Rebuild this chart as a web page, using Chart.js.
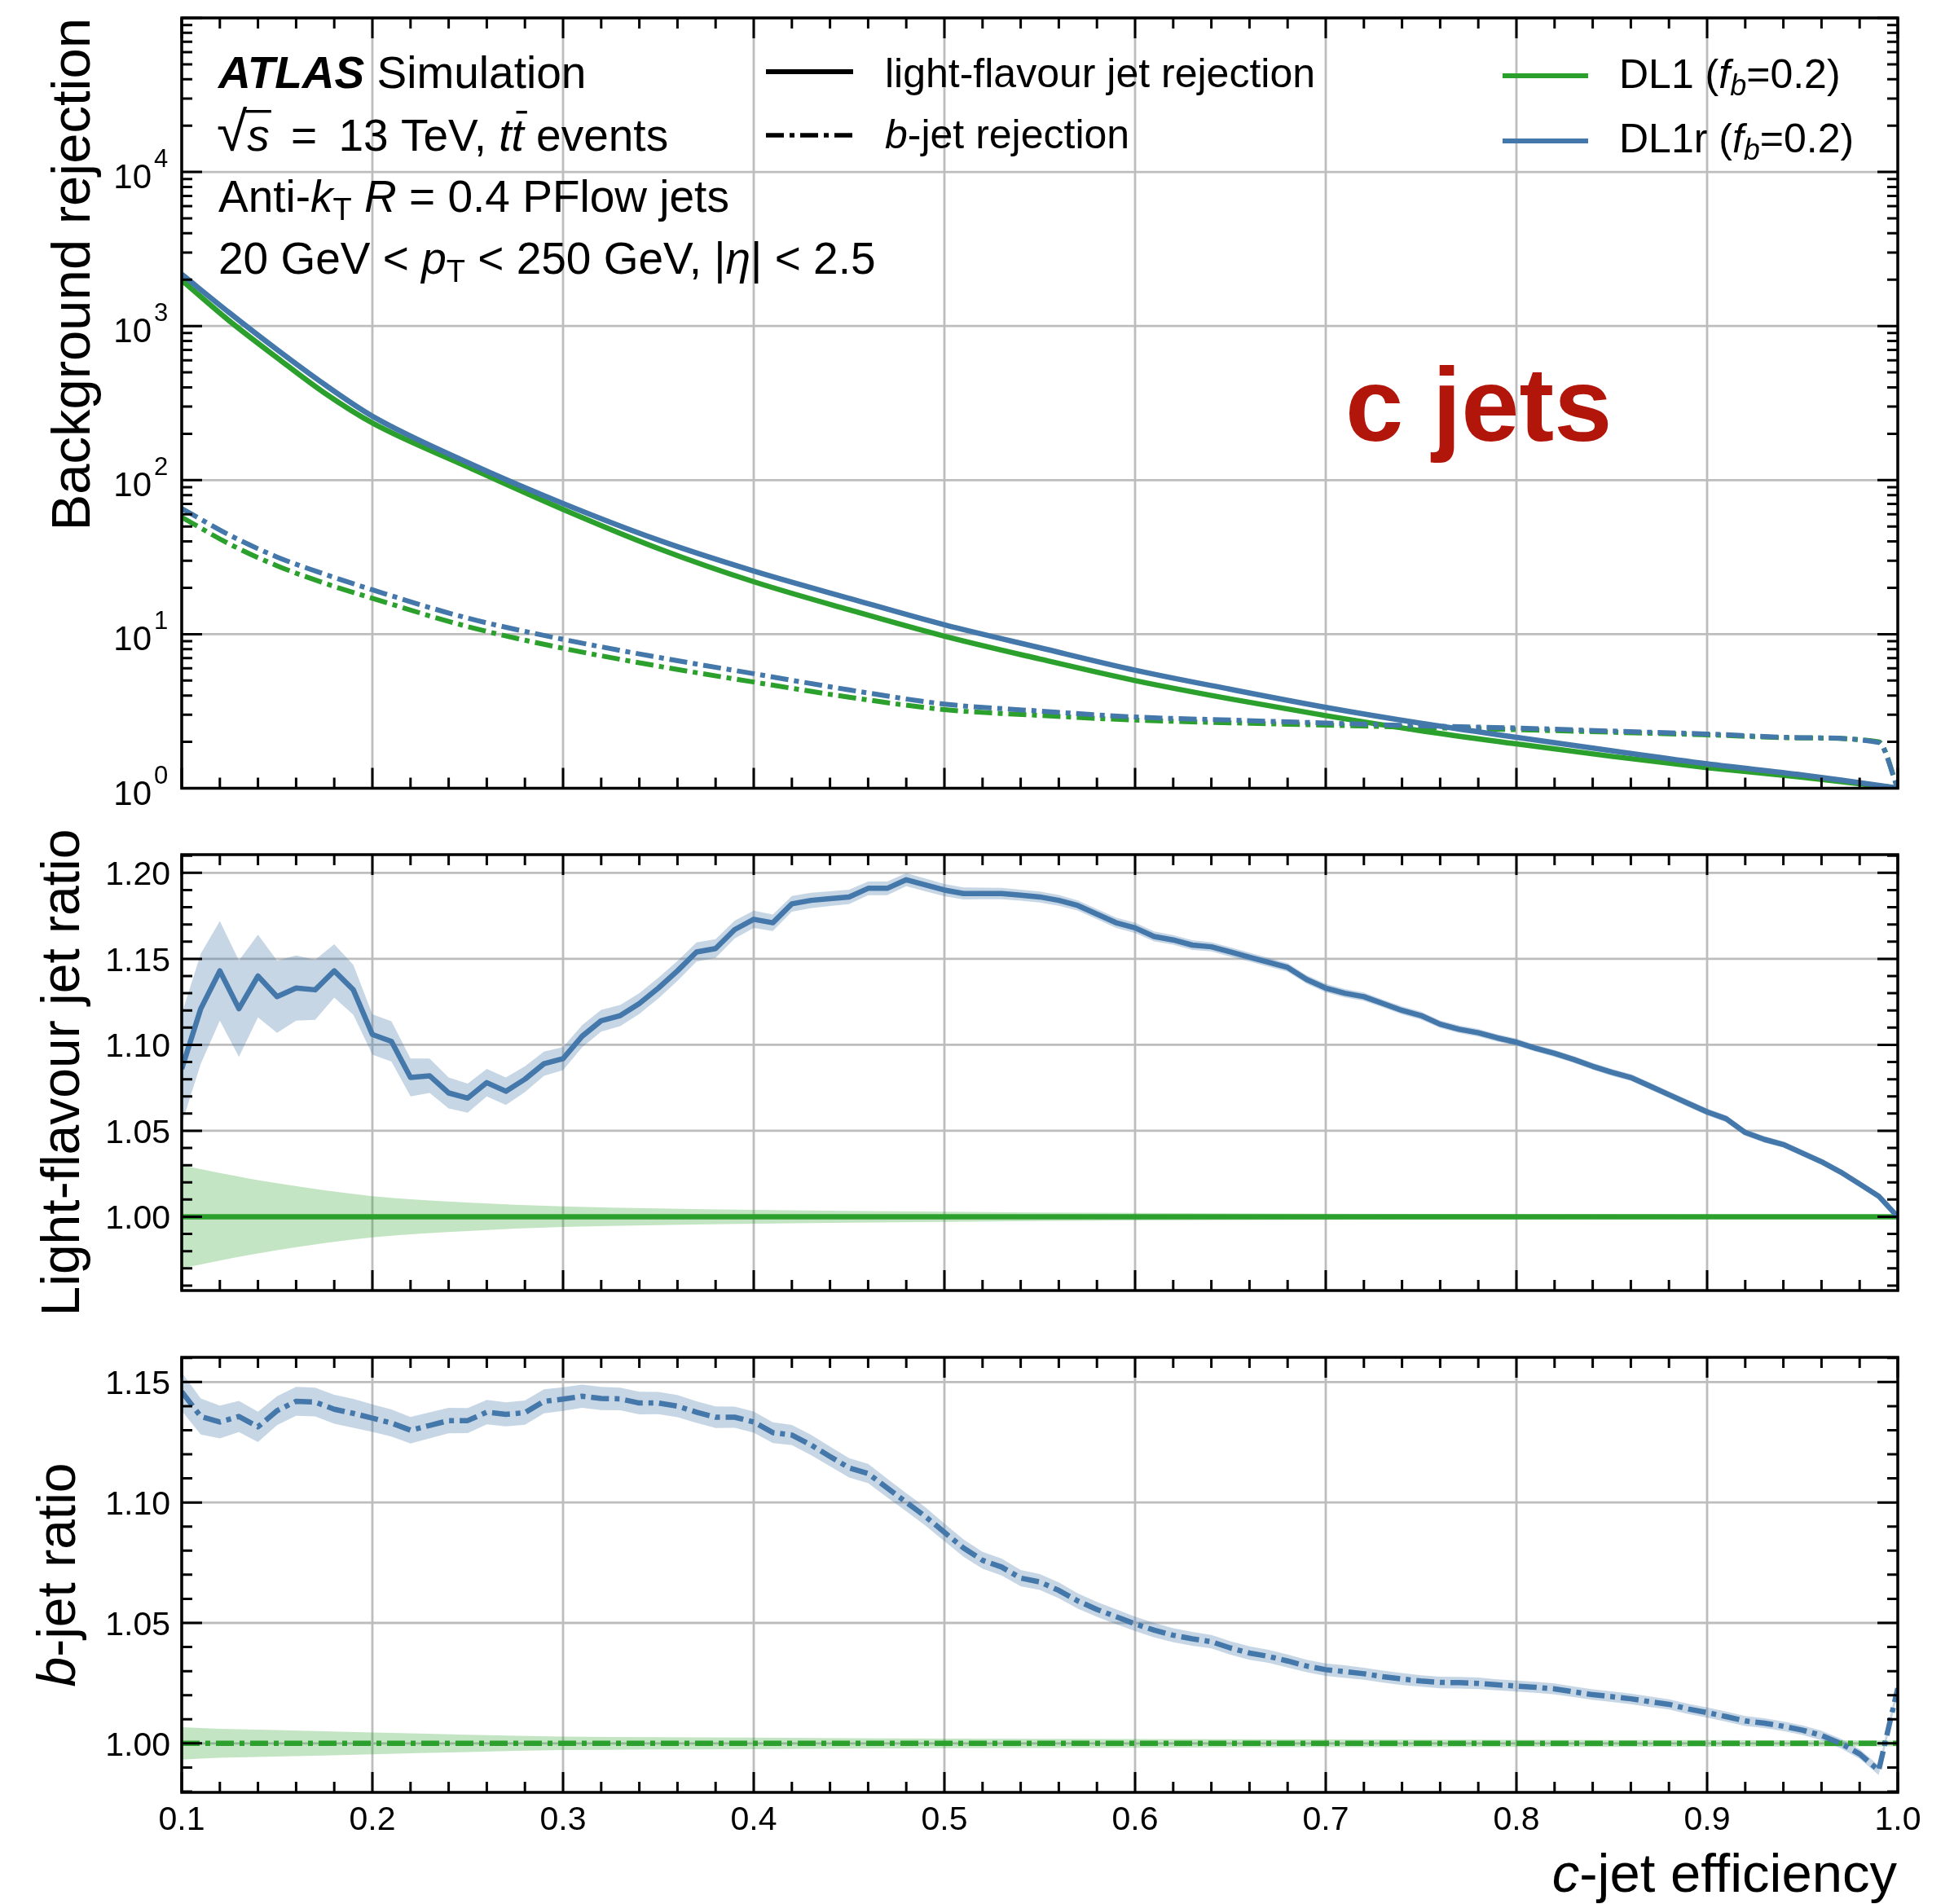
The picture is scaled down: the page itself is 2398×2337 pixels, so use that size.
<!DOCTYPE html>
<html>
<head>
<meta charset="utf-8">
<script src="https://cdn.jsdelivr.net/npm/chart.js@4.4.1/dist/chart.umd.min.js"></script>
<style>
  html, body { margin: 0; padding: 0; background: #fff; }
  #wrap { position: relative; width: 2398px; height: 2337px; }
  canvas { position: absolute; left: 0; }
</style>
</head>
<body>
<div id="wrap">
  <canvas id="top" width="2398" height="1000" style="top:0px"></canvas>
  <canvas id="mid" width="2398" height="640" style="top:1000px"></canvas>
  <canvas id="bot" width="2398" height="737" style="top:1600px"></canvas>
</div>
<script>
var FONT = '"Liberation Sans", Arial, Helvetica, sans-serif';
var GREEN = '#2ca02c', BLUE = '#4477aa';
var GREEN_BAND = 'rgba(44,160,44,0.28)', BLUE_BAND = 'rgba(68,119,170,0.30)';
var DASHDOT = [22, 7, 6, 7];

// ---- upper panel: background rejection vs c-jet efficiency
var rejEff    = [0.10, 0.125, 0.15, 0.175, 0.20, 0.25, 0.30, 0.35, 0.40, 0.45, 0.50, 0.55, 0.60, 0.65, 0.70, 0.75, 0.80, 0.85, 0.90, 0.95, 0.99, 1.00];
var dl1Light  = [1985, 1080, 623, 367, 235, 122, 64.6, 36.0, 21.9, 14.4, 9.7, 6.9, 5.0, 3.8, 2.96, 2.36, 1.94, 1.61, 1.36, 1.18, 1.035, 1.0];
var dl1rLight = [2170, 1220, 703, 417, 260, 130, 70.5, 40.8, 25.7, 17.1, 11.5, 8.17, 5.84, 4.39, 3.35, 2.64, 2.14, 1.75, 1.44, 1.22, 1.045, 1.0];
var dl1B      = [57.5, 38.5, 27.8, 21.4, 17.1, 11.2, 8.1, 6.2, 4.89, 3.9, 3.24, 2.97, 2.77, 2.66, 2.57, 2.48, 2.40, 2.31, 2.22, 2.12, 2.0, 1.0];
var dl1rB     = [65.5, 44.0, 31.7, 24.5, 19.4, 12.7, 9.26, 7.07, 5.54, 4.35, 3.52, 3.17, 2.90, 2.77, 2.65, 2.54, 2.46, 2.35, 2.25, 2.13, 1.98, 1.0];

// ---- ratio panels (DL1r / DL1)
var ratioEff = [0.10, 0.11, 0.12, 0.13, 0.14, 0.15, 0.16, 0.17, 0.18, 0.19,
                0.20, 0.21, 0.22, 0.23, 0.24, 0.25, 0.26, 0.27, 0.28, 0.29,
                0.30, 0.31, 0.32, 0.33, 0.34, 0.35, 0.36, 0.37, 0.38, 0.39,
                0.40, 0.41, 0.42, 0.43, 0.44, 0.45, 0.46, 0.47, 0.48, 0.49,
                0.50, 0.51, 0.52, 0.53, 0.54, 0.55, 0.56, 0.57, 0.58, 0.59,
                0.60, 0.61, 0.62, 0.63, 0.64, 0.65, 0.66, 0.67, 0.68, 0.69,
                0.70, 0.71, 0.72, 0.73, 0.74, 0.75, 0.76, 0.77, 0.78, 0.79,
                0.80, 0.81, 0.82, 0.83, 0.84, 0.85, 0.86, 0.87, 0.88, 0.89,
                0.90, 0.91, 0.92, 0.93, 0.94, 0.95, 0.96, 0.97, 0.98, 0.99,
                1.00];
var lightRatio = [1.086, 1.121, 1.143, 1.121, 1.140, 1.128, 1.133, 1.132, 1.143, 1.132,
                  1.106, 1.102, 1.081, 1.082, 1.072, 1.069, 1.078, 1.073, 1.080, 1.089,
                  1.092, 1.105, 1.114, 1.117, 1.124, 1.133, 1.143, 1.154, 1.156, 1.167,
                  1.173, 1.171, 1.182, 1.184, 1.185, 1.186, 1.191, 1.191, 1.196, 1.193,
                  1.190, 1.188, 1.188, 1.188, 1.187, 1.186, 1.184, 1.181, 1.176, 1.171,
                  1.168, 1.163, 1.161, 1.158, 1.157, 1.154, 1.151, 1.148, 1.145, 1.138,
                  1.133, 1.130, 1.128, 1.124, 1.120, 1.117, 1.112, 1.109, 1.107, 1.104,
                  1.1015, 1.098, 1.095, 1.0915, 1.0875, 1.084, 1.081, 1.076, 1.071, 1.066,
                  1.061, 1.057, 1.049, 1.045, 1.042, 1.037, 1.032, 1.026, 1.019, 1.012,
                  1.000];
var lightRatioErr = [0.032, 0.032, 0.029, 0.028, 0.024, 0.021, 0.019, 0.0175, 0.0155, 0.0145,
                     0.0117, 0.0117, 0.011, 0.010, 0.009, 0.0085, 0.008, 0.008, 0.0075, 0.007,
                     0.0067, 0.0065, 0.0063, 0.0062, 0.006, 0.006, 0.0058, 0.0056, 0.0054, 0.0052,
                     0.005, 0.0048, 0.0046, 0.0045, 0.0043, 0.0042, 0.004, 0.004, 0.0038, 0.0037,
                     0.0036, 0.0035, 0.0034, 0.0033, 0.0032, 0.0032, 0.0031, 0.003, 0.003, 0.003,
                     0.003, 0.0029, 0.0028, 0.0028, 0.0027, 0.0027, 0.0026, 0.0026, 0.0025, 0.0025,
                     0.0025, 0.0024, 0.0024, 0.0023, 0.0023, 0.0023, 0.0022, 0.0022, 0.0022, 0.0021,
                     0.0021, 0.002, 0.002, 0.002, 0.002, 0.002, 0.002, 0.002, 0.002, 0.002,
                     0.002, 0.002, 0.0019, 0.0019, 0.0018, 0.0018, 0.0017, 0.0016, 0.0015, 0.0013,
                     0];
var bRatio = [1.146, 1.1357, 1.1334, 1.1357, 1.1314, 1.1381, 1.142, 1.1417, 1.1387, 1.137,
              1.135, 1.133, 1.130, 1.132, 1.134, 1.134, 1.1375, 1.1366, 1.1373, 1.142,
              1.1429, 1.1441, 1.1432, 1.143, 1.1413, 1.1413, 1.140, 1.1375, 1.1354, 1.1354,
              1.1334, 1.129, 1.128, 1.1239, 1.1191, 1.1144, 1.112, 1.106, 1.1001, 1.0942,
              1.0876, 1.0811, 1.076, 1.0732, 1.0686, 1.067, 1.0635, 1.0591, 1.0556, 1.0526,
              1.0496, 1.047, 1.0449, 1.0434, 1.0422, 1.0396, 1.0375, 1.0361, 1.0342, 1.0321,
              1.0306, 1.0298, 1.0289, 1.0277, 1.0267, 1.0259, 1.0253, 1.0252, 1.0249, 1.0243,
              1.0238, 1.0233, 1.0226, 1.0214, 1.0202, 1.0194, 1.0185, 1.0173, 1.0162, 1.0143,
              1.0128, 1.0111, 1.0093, 1.0084, 1.0071, 1.0055, 1.0033, 1.0000, 0.9956, 0.9888,
              1.0229];
var bRatioErr = [0.008, 0.0075, 0.0068, 0.0065, 0.0063, 0.006, 0.006, 0.006, 0.006, 0.006,
                 0.0057, 0.0056, 0.0055, 0.0054, 0.0053, 0.0052, 0.0051, 0.005, 0.005, 0.005,
                 0.0049, 0.0048, 0.0048, 0.0047, 0.0047, 0.0046, 0.0046, 0.0045, 0.0045, 0.0044,
                 0.0044, 0.0043, 0.0042, 0.0042, 0.0041, 0.004, 0.004, 0.0039, 0.0038, 0.0038,
                 0.0037, 0.0036, 0.0035, 0.0035, 0.0034, 0.0033, 0.0033, 0.0032, 0.0031, 0.0031,
                 0.003, 0.003, 0.0029, 0.0029, 0.0028, 0.0028, 0.0028, 0.0027, 0.0027, 0.0026,
                 0.0026, 0.0026, 0.0025, 0.0025, 0.0025, 0.0024, 0.0024, 0.0024, 0.0024, 0.0023,
                 0.0023, 0.0023, 0.0023, 0.0022, 0.0022, 0.0022, 0.0022, 0.0022, 0.0021, 0.0021,
                 0.0021, 0.0021, 0.0021, 0.002, 0.002, 0.002, 0.002, 0.002, 0.002, 0.002,
                 0.002];
// DL1 reference (ratio = 1) with its statistical band
var refEff      = [0.10, 0.12, 0.15, 0.20, 0.25, 0.30, 0.40, 0.50, 0.60, 0.70, 0.80, 0.90, 1.00];
var refRatio    = [1, 1, 1, 1, 1, 1, 1, 1, 1, 1, 1, 1, 1];
var refLightErr = [0.030, 0.0255, 0.0195, 0.012, 0.0083, 0.006, 0.004, 0.003, 0.0022, 0.0018, 0.0015, 0.0012, 0.0008];
var refBErr     = [0.0067, 0.006, 0.0055, 0.0045, 0.0036, 0.0028, 0.0024, 0.002, 0.0018, 0.0016, 0.0015, 0.0014, 0.0012];

// ---- tick labels
var xTicks     = ['0.1', '0.2', '0.3', '0.4', '0.5', '0.6', '0.7', '0.8', '0.9', '1.0'];
var rejTicks   = ['0', '1', '2', '3', '4'];   // exponents of 10
var lightTicks = ['1.00', '1.05', '1.10', '1.15', '1.20'];
var bTicks     = ['1.00', '1.05', '1.10', '1.15'];

function pts(xs, ys) {
  return xs.map(function(x, i) { return {x: x, y: ys[i]}; });
}
function shifted(xs, ys, err, sign) {
  return xs.map(function(x, i) { return {x: x, y: ys[i] + sign * err[i]}; });
}

function fnt(r) {
  return (r.s ? r.s + ' ' : '') + r.z + 'px ' + FONT;
}
// draw a row of text pieces with mixed styles
function runs(ctx, x, y, list, align) {
  var w = 0;
  list.forEach(function(r) { ctx.font = fnt(r); w += ctx.measureText(r.t).width; });
  if (align === 'right') x -= w;
  else if (align === 'center') x -= w / 2;
  list.forEach(function(r) {
    ctx.font = fnt(r);
    var rw = ctx.measureText(r.t).width;
    ctx.fillText(r.t, x, y + (r.dy || 0));
    if (r.bar) ctx.fillRect(x + r.bar[0], y - r.bar[1], rw + r.bar[2], 3.4);
    x += rw;
  });
}

var xMajor = [], xMinor = [];
for (var k = 10; k <= 100; k += 2) {
  if (k % 10 === 0) xMajor.push(k / 100); else xMinor.push(k / 100);
}

function deco(cfg) {
  return {
    id: 'deco',
    beforeDatasetsDraw: function(chart) {
      var ctx = chart.ctx, a = chart.chartArea, xs = chart.scales.x, ys = chart.scales.y;
      ctx.save();
      ctx.strokeStyle = '#bdbdbd';
      ctx.lineWidth = 2.8;
      ctx.beginPath();
      xMajor.forEach(function(v) {
        var p = xs.getPixelForValue(v);
        ctx.moveTo(p, a.top); ctx.lineTo(p, a.bottom);
      });
      cfg.yMajor.forEach(function(v) {
        var p = ys.getPixelForValue(v);
        ctx.moveTo(a.left, p); ctx.lineTo(a.right, p);
      });
      ctx.stroke();
      ctx.restore();
    },
    afterDraw: function(chart) {
      var ctx = chart.ctx, a = chart.chartArea, xs = chart.scales.x, ys = chart.scales.y;
      ctx.save();
      ctx.strokeStyle = '#000';
      ctx.lineWidth = 3;
      ctx.beginPath();
      function xt(v, len) {
        var p = xs.getPixelForValue(v);
        ctx.moveTo(p, a.bottom); ctx.lineTo(p, a.bottom - len);
        ctx.moveTo(p, a.top); ctx.lineTo(p, a.top + len);
      }
      function yt(v, len) {
        var p = ys.getPixelForValue(v);
        ctx.moveTo(a.left, p); ctx.lineTo(a.left + len, p);
        ctx.moveTo(a.right, p); ctx.lineTo(a.right - len, p);
      }
      xMajor.forEach(function(v) { xt(v, 25); });
      xMinor.forEach(function(v) { xt(v, 13); });
      cfg.yMajor.forEach(function(v) { yt(v, 25); });
      cfg.yMinor.forEach(function(v) { yt(v, 13); });
      ctx.stroke();
      ctx.lineWidth = 3.5;
      ctx.strokeRect(a.left, a.top, a.right - a.left, a.bottom - a.top);
      ctx.fillStyle = '#000';
      ctx.textBaseline = 'alphabetic';
      cfg.labels(ctx, chart, a, xs, ys);
      ctx.restore();
    }
  };
}

function options(yScale, xHeight, padTop) {
  yScale.grid = {display: false};
  yScale.border = {display: false};
  yScale.ticks = {display: false};
  yScale.afterFit = function(s) { s.width = 223; };
  return {
    responsive: false,
    animation: false,
    devicePixelRatio: 1,
    layout: {padding: {left: 0, right: 69, top: padTop, bottom: 0}},
    plugins: {legend: {display: false}, tooltip: {enabled: false}},
    elements: {point: {radius: 0}, line: {borderCapStyle: 'butt', borderJoinStyle: 'round'}},
    scales: {
      x: {type: 'linear', min: 0.1, max: 1.0, grid: {display: false}, border: {display: false},
          ticks: {display: false}, afterFit: function(s) { s.height = xHeight; }},
      y: yScale
    }
  };
}

// ---------- upper panel
var rejMajor = [1, 10, 100, 1000, 10000, 100000], rejMinor = [];
for (var e = 0; e < 5; e++) for (var m = 2; m <= 9; m++) rejMinor.push(m * Math.pow(10, e));

new Chart(document.getElementById('top'), {
  type: 'line',
  data: {datasets: [
    {data: pts(rejEff, dl1rLight), borderColor: BLUE, borderWidth: 6.5, cubicInterpolationMode: 'monotone', order: 0},
    {data: pts(rejEff, dl1rB), borderColor: BLUE, borderWidth: 6, borderDash: DASHDOT, cubicInterpolationMode: 'monotone', order: 0},
    {data: pts(rejEff, dl1Light), borderColor: GREEN, borderWidth: 6.5, cubicInterpolationMode: 'monotone', order: 1},
    {data: pts(rejEff, dl1B), borderColor: GREEN, borderWidth: 6, borderDash: DASHDOT, cubicInterpolationMode: 'monotone', order: 1}
  ]},
  options: options({type: 'logarithmic', min: 1, max: 100000}, 32.5, 22),
  plugins: [deco({
    yMajor: rejMajor, yMinor: rejMinor,
    labels: function(ctx, chart, a, xs, ys) {
      rejTicks.forEach(function(t) {
        var p = ys.getPixelForValue(Math.pow(10, +t));
        ctx.textAlign = 'right';
        ctx.font = '42px ' + FONT;
        ctx.fillText('10', 186, p + 20);
        ctx.textAlign = 'left';
        ctx.font = '31px ' + FONT;
        ctx.fillText(t, 189, p - 6);
      });
      ctx.textAlign = 'left';
      // axis title
      ctx.save();
      ctx.translate(110, 22);
      ctx.rotate(-Math.PI / 2);
      ctx.font = '67px ' + FONT;
      ctx.textAlign = 'right';
      ctx.fillText('Background rejection', 0, 0);
      ctx.restore();
      ctx.textAlign = 'left';
      // labels block
      var Z = 55, S = 38;
      runs(ctx, 268, 108, [{t: 'ATLAS', s: 'italic bold', z: Z}, {t: ' Simulation', z: Z}]);
      runs(ctx, 266, 185, [{t: '\u221A', z: 68}, {t: 's', s: 'italic', z: Z, bar: [-2, 50, 4]},
        {t: '\u2009 = \u200913 TeV, ', z: Z}, {t: 't', s: 'italic', z: Z}, {t: 't', s: 'italic', z: Z, bar: [6, 49, -2]},
        {t: ' events', z: Z}]);
      runs(ctx, 268, 260, [{t: 'Anti-', z: Z}, {t: 'k', s: 'italic', z: Z}, {t: 'T', z: S, dy: 10},
        {t: ' ', z: Z}, {t: 'R', s: 'italic', z: Z}, {t: ' = 0.4 PFlow jets', z: Z}]);
      runs(ctx, 268, 336, [{t: '20 GeV < ', z: Z}, {t: 'p', s: 'italic', z: Z}, {t: 'T', z: S, dy: 10},
        {t: ' < 250 GeV, |', z: Z}, {t: '\u03B7', s: 'italic', z: Z}, {t: '| < 2.5', z: Z}]);
      // legend: line styles
      ctx.lineWidth = 6;
      ctx.strokeStyle = '#000';
      ctx.beginPath(); ctx.moveTo(940, 88); ctx.lineTo(1047, 88); ctx.stroke();
      ctx.lineWidth = 5.5;
      ctx.setLineDash(DASHDOT);
      ctx.beginPath(); ctx.moveTo(940, 166); ctx.lineTo(1047, 166); ctx.stroke();
      ctx.setLineDash([]);
      var L = 50;
      runs(ctx, 1086, 107, [{t: 'light-flavour jet rejection', z: L}]);
      runs(ctx, 1086, 182, [{t: 'b', s: 'italic', z: L}, {t: '-jet rejection', z: L}]);
      // legend: taggers
      ctx.lineWidth = 6;
      ctx.strokeStyle = GREEN;
      ctx.beginPath(); ctx.moveTo(1844, 93); ctx.lineTo(1949, 93); ctx.stroke();
      ctx.strokeStyle = BLUE;
      ctx.beginPath(); ctx.moveTo(1844, 173); ctx.lineTo(1949, 173); ctx.stroke();
      runs(ctx, 1987, 108, [{t: 'DL1 (', z: L}, {t: 'f', s: 'italic', z: L}, {t: 'b', s: 'italic', z: 36, dy: 9}, {t: '=0.2)', z: L}]);
      runs(ctx, 1987, 187, [{t: 'DL1r (', z: L}, {t: 'f', s: 'italic', z: L}, {t: 'b', s: 'italic', z: 36, dy: 9}, {t: '=0.2)', z: L}]);
      // big label
      ctx.fillStyle = '#b2150a';
      runs(ctx, 1651, 541, [{t: 'c jets', s: 'bold', z: 128}]);
    }
  })]
});

// ---------- light-flavour ratio panel
var lightMajor = lightTicks.map(Number), lightMinor = [];
for (var q = 96; q <= 121; q++) if (q % 5 !== 0) lightMinor.push(q / 100);

new Chart(document.getElementById('mid'), {
  type: 'line',
  data: {datasets: [
    {data: pts(ratioEff, lightRatio), borderColor: BLUE, borderWidth: 6.5, tension: 0, order: 0},
    {data: pts(refEff, refRatio), borderColor: GREEN, borderWidth: 6.5, tension: 0, order: 1},
    {data: shifted(ratioEff, lightRatio, lightRatioErr, 1), borderWidth: 0, backgroundColor: BLUE_BAND, fill: '+1', tension: 0, order: 2},
    {data: shifted(ratioEff, lightRatio, lightRatioErr, -1), borderWidth: 0, fill: false, tension: 0, order: 2},
    {data: shifted(refEff, refRatio, refLightErr, 1), borderWidth: 0, backgroundColor: GREEN_BAND, fill: '+1', cubicInterpolationMode: 'monotone', order: 3},
    {data: shifted(refEff, refRatio, refLightErr, -1), borderWidth: 0, fill: false, cubicInterpolationMode: 'monotone', order: 3}
  ]},
  options: options({type: 'linear', min: 0.9571, max: 1.2106}, 56, 49),
  plugins: [deco({
    yMajor: lightMajor, yMinor: lightMinor,
    labels: function(ctx, chart, a, xs, ys) {
      ctx.font = '41px ' + FONT;
      ctx.textAlign = 'right';
      lightTicks.forEach(function(t) {
        ctx.fillText(t, 209, ys.getPixelForValue(+t) + 15);
      });
      ctx.save();
      ctx.translate(97, 316.5);
      ctx.rotate(-Math.PI / 2);
      ctx.font = '66px ' + FONT;
      ctx.textAlign = 'center';
      ctx.fillText('Light-flavour jet ratio', 0, 0);
      ctx.restore();
    }
  })]
});

// ---------- b-jet ratio panel
var bMajor = bTicks.map(Number), bMinor = [];
for (var r = 98; r <= 116; r++) if (r % 5 !== 0) bMinor.push(r / 100);

new Chart(document.getElementById('bot'), {
  type: 'line',
  data: {datasets: [
    {data: pts(ratioEff, bRatio), borderColor: BLUE, borderWidth: 6.5, borderDash: DASHDOT, tension: 0, order: 0},
    {data: pts(refEff, refRatio), borderColor: GREEN, borderWidth: 6.5, borderDash: DASHDOT, tension: 0, order: 1},
    {data: shifted(ratioEff, bRatio, bRatioErr, 1), borderWidth: 0, backgroundColor: BLUE_BAND, fill: '+1', tension: 0, order: 2},
    {data: shifted(ratioEff, bRatio, bRatioErr, -1), borderWidth: 0, fill: false, tension: 0, order: 2},
    {data: shifted(refEff, refRatio, refBErr, 1), borderWidth: 0, backgroundColor: GREEN_BAND, fill: '+1', cubicInterpolationMode: 'monotone', order: 3},
    {data: shifted(refEff, refRatio, refBErr, -1), borderWidth: 0, fill: false, cubicInterpolationMode: 'monotone', order: 3}
  ]},
  options: options({type: 'linear', min: 0.97965, max: 1.16026}, 137, 66),
  plugins: [deco({
    yMajor: bMajor, yMinor: bMinor,
    labels: function(ctx, chart, a, xs, ys) {
      ctx.font = '41px ' + FONT;
      ctx.textAlign = 'right';
      bTicks.forEach(function(t) {
        ctx.fillText(t, 209, ys.getPixelForValue(+t) + 15);
      });
      ctx.textAlign = 'center';
      xTicks.forEach(function(t) {
        ctx.fillText(t, xs.getPixelForValue(+t), 646);
      });
      ctx.textAlign = 'left';
      ctx.save();
      ctx.translate(92, 333);
      ctx.rotate(-Math.PI / 2);
      runs(ctx, 0, 0, [{t: 'b', s: 'italic', z: 66}, {t: '-jet ratio', z: 66}], 'center');
      ctx.restore();
      runs(ctx, 2328, 722, [{t: 'c', s: 'italic', z: 67}, {t: '-jet efficiency', z: 67}], 'right');
    }
  })]
});
</script>
</body>
</html>
